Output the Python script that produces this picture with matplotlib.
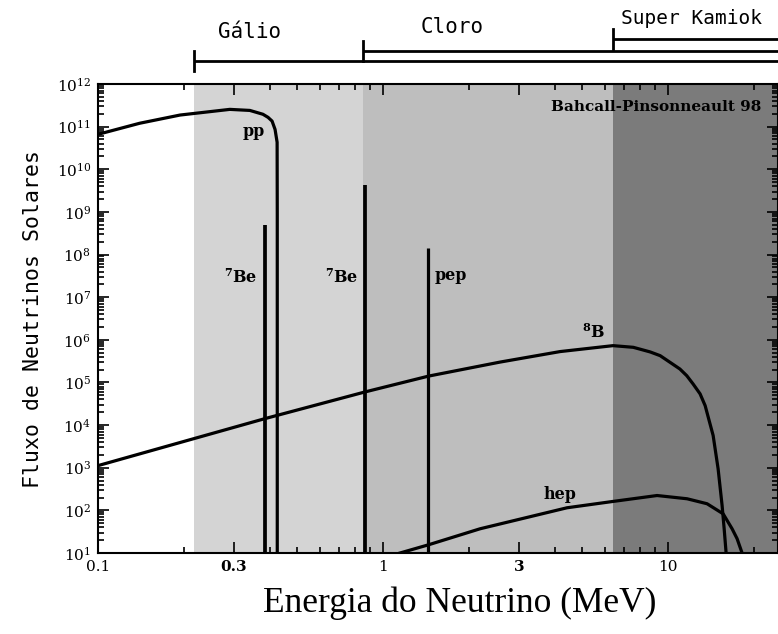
import matplotlib.pyplot as plt
from matplotlib.ticker import FixedLocator, NullFormatter

plt.rcParams['mathtext.fontset'] = 'dejavuserif'

# Solar neutrino spectra (BP98), energy in MeV, flux per cm^2 s (MeV)
pp_e = [0.1, 0.140, 0.194, 0.290, 0.341, 0.379, 0.395, 0.408, 0.418, 0.425, 0.4255, 0.4255]
pp_flux = [6.6e10, 1.2e11, 1.87e11, 2.54e11, 2.4e11, 1.95e11, 1.65e11, 1.35e11, 8.6e10,
           4.3e10, 1e9, 5]

b8_e = [0.1, 0.3825, 0.865, 1.445, 2.57, 4.18, 6.41, 7.55, 8.65, 9.38, 11.0, 11.63,
        12.24, 12.95, 13.49, 14.39, 14.98, 15.47, 15.73, 15.98]
b8_flux = [1.12e3, 1.4e4, 6.0e4, 1.41e5, 3.0e5, 5.3e5, 7.3e5, 6.67e5, 5.2e5, 4.25e5,
           2.07e5, 1.44e5, 9.2e4, 5.4e4, 2.86e4, 5.7e3, 942, 130, 37, 10]

hep_e = [1.147, 1.445, 2.19, 4.42, 6.41, 9.15, 11.66, 13.7, 15.6, 16.77, 17.46, 18.18]
hep_flux = [10, 15.6, 37, 115, 162, 223, 187, 143, 83, 37, 21.7, 10]

# line sources: 7Be (two lines) and pep
line_e = [0.384, 0.862, 1.442]
line_flux = [4.8e8, 4.3e9, 1.39e8]

# detector thresholds (MeV)
thresholds = [0.217, 0.85, 6.43]
detectors = ['Gálio', 'Cloro', 'Super Kamiok']
shades = ['#d4d4d4', '#bebebe', '#7b7b7b']

xmin, xmax = 0.1, 24.3
ymin, ymax = 10, 1e12

fig = plt.figure(figsize=(7.78, 6.34), dpi=100)
ax = fig.add_axes([98 / 778, 1 - 553 / 634, 680 / 778, 469 / 634])
ax.set_xscale('log')
ax.set_yscale('log')
ax.set_xlim(xmin, xmax)
ax.set_ylim(ymin, ymax)

# shaded regions above each threshold
edges = thresholds + [xmax]
for i in range(len(thresholds)):
    ax.axvspan(edges[i], edges[i + 1], color=shades[i], lw=0, zorder=0)

lw = 2.3
ax.plot(pp_e, pp_flux, color='black', lw=lw, solid_joinstyle='round')
ax.plot(b8_e, b8_flux, color='black', lw=lw, solid_joinstyle='round')
ax.plot(hep_e, hep_flux, color='black', lw=lw, solid_joinstyle='round')
ax.vlines(line_e, 1, line_flux, colors='black', lw=[2.7, 2.7, 2.3])

lab = dict(family='DejaVu Serif', weight='bold', fontsize=11.5)
ax.text(0.3527, 7.8e10, 'pp', ha='center', va='center', **lab)
ax.text(0.361, 2.95e7, r'$^\mathbf{7}$Be', ha='right', va='center', **lab)
ax.text(0.817, 2.95e7, r'$^\mathbf{7}$Be', ha='right', va='center', **lab)
ax.text(1.522, 3.3e7, 'pep', ha='left', va='center', **lab)
ax.text(5.46, 1.5e6, r'$^\mathbf{8}$B', ha='center', va='center', **lab)
ax.text(4.18, 232, 'hep', ha='center', va='center', **lab)
ax.text(0.976, 0.951, 'Bahcall-Pinsonneault 98', transform=ax.transAxes,
        ha='right', va='center', family='DejaVu Serif', weight='heavy', fontsize=11)

# detector ranges above the frame
trans = ax.get_xaxis_transform()
bar_y = [1.049, 1.0704, 1.096]
text_pos = [(0.3415, 1.111, 'center'), (1.746, 1.1215, 'center'), (6.84, 1.1386, 'left')]
text_size = [15, 15, 14]
for i in range(len(thresholds)):
    y = bar_y[i]
    ax.plot([thresholds[i], xmax], [y, y], color='black', lw=2, transform=trans,
            clip_on=False, solid_capstyle='butt')
    ax.plot([thresholds[i], thresholds[i]], [y - 0.022, y + 0.022], color='black', lw=2,
            transform=trans, clip_on=False)
    tx, ty, ha = text_pos[i]
    ax.text(tx, ty, detectors[i], transform=trans, ha=ha, va='center',
            family='DejaVu Sans Mono', fontsize=text_size[i])

# axes ticks
xmajor = [0.1, 0.3, 1, 3, 10]
ax.xaxis.set_major_locator(FixedLocator(xmajor))
ax.set_xticklabels(['0.1', '0.3', '1', '3', '10'], family='DejaVu Serif', fontsize=11)
for t in ax.get_xticklabels():
    if t.get_text() in ('0.3', '3'):
        t.set_fontweight('bold')
xminor = [m * 10.0 ** d for d in (-1, 0, 1) for m in range(2, 10)]
ax.xaxis.set_minor_locator(FixedLocator([v for v in xminor if v not in xmajor]))
ax.xaxis.set_minor_formatter(NullFormatter())

ymajor = [10.0 ** k for k in range(1, 13)]
ax.yaxis.set_major_locator(FixedLocator(ymajor))
ax.set_yticklabels([r'$10^{%d}$' % k for k in range(1, 13)], fontsize=11)
ax.yaxis.set_minor_locator(FixedLocator([m * 10.0 ** d for d in range(1, 12) for m in range(2, 10)]))
ax.yaxis.set_minor_formatter(NullFormatter())

ax.tick_params(which='both', direction='in', top=True, right=True, width=1.2)
ax.tick_params(which='major', length=8, pad=5)
ax.tick_params(which='minor', length=4)
for s in ax.spines.values():
    s.set_linewidth(1.5)

ax.set_xlabel('Energia do Neutrino (MeV)', family='Liberation Serif', fontsize=25.5)
ax.xaxis.set_label_coords(0.532, -0.072)
ax.set_ylabel('Fluxo de Neutrinos Solares', family='DejaVu Sans Mono', fontsize=15.5, labelpad=10)

fig.savefig('out.png', dpi=100)
